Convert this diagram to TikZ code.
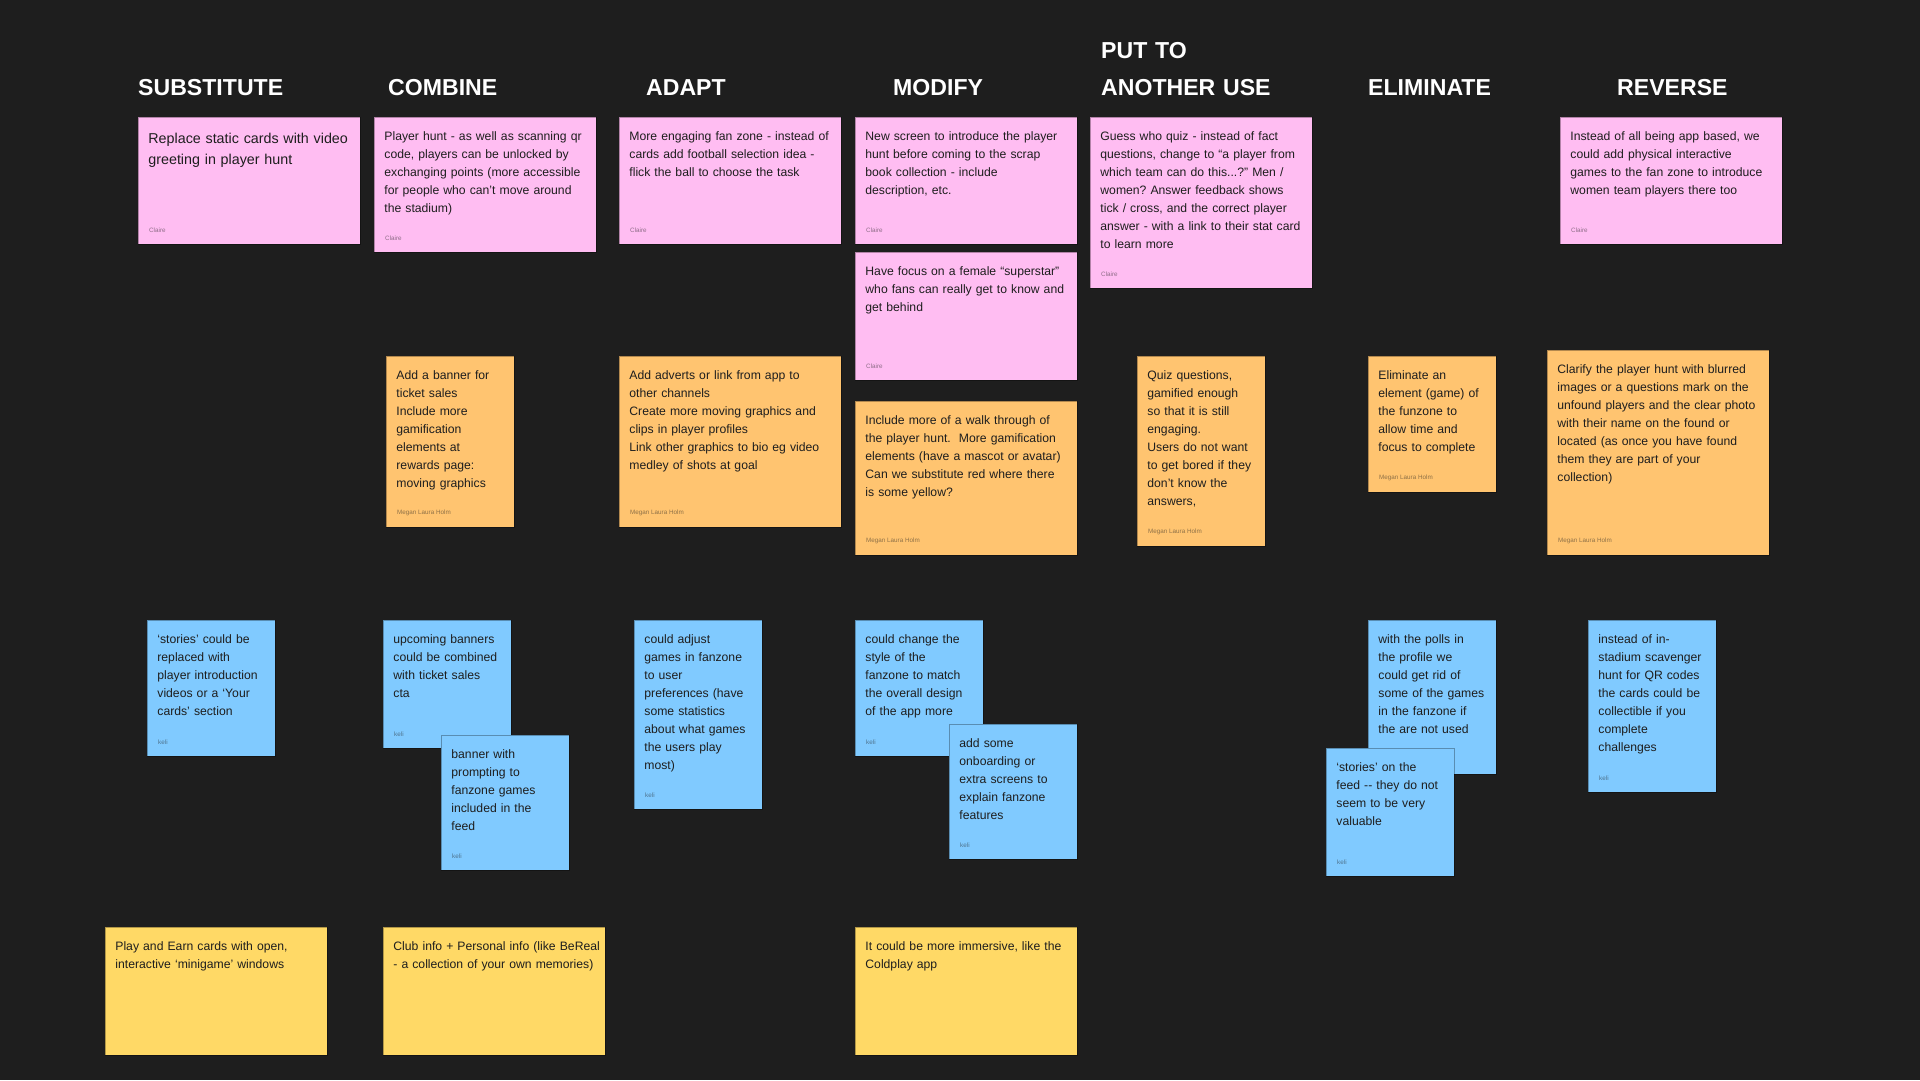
\documentclass[tikz,border=0pt]{standalone}
\usepackage{fontspec}
\setmainfont{Liberation Sans}
\usetikzlibrary{positioning}

\definecolor{board}{HTML}{1E1E1E}
\definecolor{ink}{HTML}{1E1E1E}
\definecolor{notepink}{HTML}{FFBDF2}
\definecolor{noteorange}{HTML}{FFC470}
\definecolor{noteblue}{HTML}{80CAFF}
\definecolor{noteyellow}{HTML}{FFD966}

\begin{document}
\begin{tikzpicture}[
  x=1pt, y=-1pt,
  head/.style={anchor=base west, inner sep=0pt, text=white, font=\fontsize{23.1}{37}\selectfont\bfseries},
  note/.style={anchor=north west, inner xsep=10pt, inner ysep=0pt, text height=23.5pt, align=left, text=ink, draw=black, draw opacity=0.3, line width=0.8pt, font=\fontsize{12.2}{18}\selectfont\frenchspacing, execute at begin node={\rightskip=0pt plus 1fil minus 40pt\hyphenpenalty=10000}},
  wide/.style={note, text width=202pt},
  slim/.style={note, text width=108pt},
  pinknote/.style={fill=notepink},
  orangenote/.style={fill=noteorange},
  bluenote/.style={fill=noteblue},
  yellownote/.style={fill=noteyellow},
  who/.style={inner sep=0pt, text=ink, text opacity=0.5, font=\fontsize{6.3}{7}\selectfont}
]
\fill[board] (0,0) rectangle (1920,1080);
\useasboundingbox (0,0) rectangle (1920,1080);

\node[head] (substitute) at (138,95) {SUBSTITUTE};
\node[head] (combine) at (388,95) {COMBINE};
\node[head] (adapt) at (646,95) {ADAPT};
\node[head] (modify) at (893,95) {MODIFY};
\node[head, text width=200pt, align=left] (putto) at (1101,58) {PUT TO\\ANOTHER USE};
\node[head] (eliminate) at (1368,95) {ELIMINATE};
\node[head] (reverse) at (1617,95) {REVERSE};

\node[wide, pinknote, text height=26pt, text depth=101pt, font=\fontsize{14.3}{20.7}\selectfont] (sub1) at (138,117) {Replace static cards with video\\greeting in player hunt};
\node[who, above right=12pt and 11pt of sub1.south west] (sub1n) {Claire};
\node[wide, pinknote, text depth=111.5pt] (com1) at (374,117) {Player hunt - as well as scanning qr\\code, players can be unlocked by\\exchanging points (more accessible\\for people who can’t move around\\the stadium)};
\node[who, above right=12pt and 11pt of com1.south west] (com1n) {Claire};
\node[wide, pinknote, text depth=103.5pt] (ada1) at (619,117) {More engaging fan zone - instead of\\cards add football selection idea -\\flick the ball to choose the task};
\node[who, above right=12pt and 11pt of ada1.south west] (ada1n) {Claire};
\node[wide, pinknote, text depth=103.5pt] (mod1) at (855,117) {New screen to introduce the player\\hunt before coming to the scrap\\book collection - include\\description, etc.};
\node[who, above right=12pt and 11pt of mod1.south west] (mod1n) {Claire};
\node[wide, pinknote, text depth=104.5pt] (mod2) at (855,252) {Have focus on a female “superstar”\\who fans can really get to know and\\get behind};
\node[who, above right=12pt and 11pt of mod2.south west] (mod2n) {Claire};
\node[wide, pinknote, text depth=147.5pt] (put1) at (1090,117) {Guess who quiz - instead of fact\\questions, change to “a player from\\which team can do this...?” Men /\\women? Answer feedback shows\\tick / cross, and the correct player\\answer - with a link to their stat card\\to learn more};
\node[who, above right=12pt and 11pt of put1.south west] (put1n) {Claire};
\node[wide, pinknote, text depth=103.5pt] (rev1) at (1560,117) {Instead of all being app based, we\\could add physical interactive\\games to the fan zone to introduce\\women team players there too};
\node[who, above right=12pt and 11pt of rev1.south west] (rev1n) {Claire};

\node[slim, orangenote, text depth=147.5pt] (com2) at (386,356) {Add a banner for\\ticket sales\\Include more\\gamification\\elements at\\rewards page:\\moving graphics};
\node[who, above right=12pt and 11pt of com2.south west] (com2n) {Megan Laura Holm};
\node[wide, orangenote, text depth=147.5pt] (ada2) at (619,356) {Add adverts or link from app to\\other channels\\Create more moving graphics and\\clips in player profiles\\Link other graphics to bio eg video\\medley of shots at goal};
\node[who, above right=12pt and 11pt of ada2.south west] (ada2n) {Megan Laura Holm};
\node[wide, orangenote, text depth=130.5pt] (mod3) at (855,401) {Include more of a walk through of\\the player hunt.~ More gamification\\elements (have a mascot or avatar)\\Can we substitute red where there\\is some yellow?};
\node[who, above right=12pt and 11pt of mod3.south west] (mod3n) {Megan Laura Holm};
\node[slim, orangenote, text depth=166.5pt] (put2) at (1137,356) {Quiz questions,\\gamified enough\\so that it is still\\engaging.\\Users do not want\\to get bored if they\\don’t know the\\answers,};
\node[who, above right=12pt and 11pt of put2.south west] (put2n) {Megan Laura Holm};
\node[slim, orangenote, text depth=112.5pt] (eli1) at (1368,356) {Eliminate an\\element (game) of\\the funzone to\\allow time and\\focus to complete};
\node[who, above right=12pt and 11pt of eli1.south west] (eli1n) {Megan Laura Holm};
\node[wide, orangenote, text depth=181.5pt] (rev2) at (1547,350) {Clarify the player hunt with blurred\\images or a questions mark on the\\unfound players and the clear photo\\with their name on the found or\\located (as once you have found\\them they are part of your\\collection)};
\node[who, above right=12pt and 11pt of rev2.south west] (rev2n) {Megan Laura Holm};

\node[slim, bluenote, text depth=112.5pt] (sub2) at (147,620) {‘stories’ could be\\replaced with\\player introduction\\videos or a ‘Your\\cards’ section};
\node[who, above right=12pt and 11pt of sub2.south west] (sub2n) {keli};
\node[slim, bluenote, text depth=104.5pt] (com3) at (383,620) {upcoming banners\\could be combined\\with ticket sales\\cta};
\node[who, above right=12pt and 11pt of com3.south west] (com3n) {keli};
\node[slim, bluenote, text depth=111.5pt] (com4) at (441,735) {banner with\\prompting to\\fanzone games\\included in the\\feed};
\node[who, above right=12pt and 11pt of com4.south west] (com4n) {keli};
\node[slim, bluenote, text depth=165.5pt] (ada3) at (634,620) {could adjust\\games in fanzone\\to user\\preferences (have\\some statistics\\about what games\\the users play\\most)};
\node[who, above right=12pt and 11pt of ada3.south west] (ada3n) {keli};
\node[slim, bluenote, text depth=112.5pt] (mod4) at (855,620) {could change the\\style of the\\fanzone to match\\the overall design\\of the app more};
\node[who, above right=12pt and 11pt of mod4.south west] (mod4n) {keli};
\node[slim, bluenote, text depth=111.5pt] (mod5) at (949,724) {add some\\onboarding or\\extra screens to\\explain fanzone\\features};
\node[who, above right=12pt and 11pt of mod5.south west] (mod5n) {keli};
\node[slim, bluenote, text depth=130.5pt] (eli2) at (1368,620) {with the polls in\\the profile we\\could get rid of\\some of the games\\in the fanzone if\\the are not used};
\node[who, above right=12pt and 11pt of eli2.south west] (eli2n) {keli};
\node[slim, bluenote, text depth=104.5pt] (eli3) at (1326,748) {‘stories’ on the\\feed -{}- they do not\\seem to be very\\valuable};
\node[who, above right=12pt and 11pt of eli3.south west] (eli3n) {keli};
\node[slim, bluenote, text depth=148.5pt] (rev3) at (1588,620) {instead of in-\\stadium scavenger\\hunt for QR codes\\the cards could be\\collectible if you\\complete\\challenges};
\node[who, above right=12pt and 11pt of rev3.south west] (rev3n) {keli};

\node[wide, yellownote, text depth=104.5pt] (sub3) at (105,927) {Play and Earn cards with open,\\interactive ‘minigame’ windows};
\node[wide, yellownote, text depth=104.5pt] (com5) at (383,927) {Club info + Personal info (like BeReal\\- a collection of your own memories)};
\node[wide, yellownote, text depth=104.5pt] (mod6) at (855,927) {It could be more immersive, like the\\Coldplay app};
\end{tikzpicture}
\end{document}
